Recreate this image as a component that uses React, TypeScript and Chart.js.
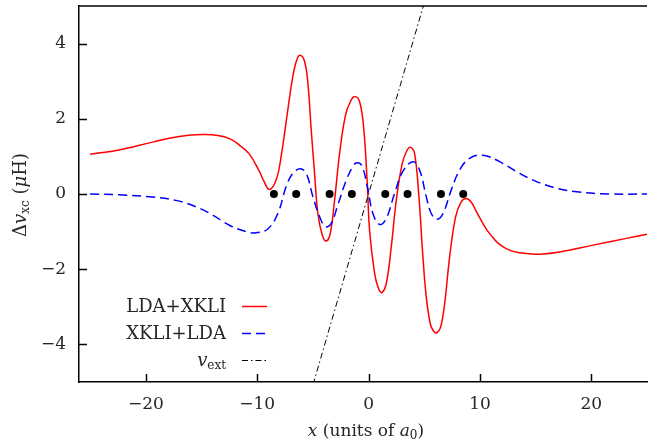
import React, { useEffect, useRef } from "react";
import { Chart, registerables } from "chart.js";

Chart.register(...registerables);

// LDA+XKLI (red, solid)
const ldaXkliX = [
  -25.0, -22.4, -19.4, -17.0, -14.9, -13.4, -12.4, -11.6, -10.7, -9.8, -9.4, -8.9, -8.3, -7.85, -7.25, -6.8, -6.44,
  -6.14, -5.75, -5.45, -5.15, -4.85, -4.55, -4.16, -3.8, -3.44, -3.05, -2.6, -2.07, -1.56, -1.2, -0.81, -0.45,
  -0.12, 0.09, 0.54, 0.9, 1.2, 1.59, 2.04, 2.49, 3.03, 3.47, 3.77, 4.13, 4.52, 4.88, 5.18, 5.54, 5.84, 6.14,
  6.47, 6.83, 7.28, 7.82, 8.33, 8.78, 9.23, 9.6, 10.0, 10.5, 11.0, 11.6, 12.4, 13.3, 14.5, 15.4, 17.16, 20.15, 23.15, 25.0,
];
const ldaXkliY = [
  1.06, 1.17, 1.38, 1.53, 1.58, 1.55, 1.46, 1.3, 1.06, 0.6, 0.34, 0.12, 0.37, 1.0, 2.24, 3.13, 3.57,
  3.69, 3.53, 2.95, 1.71, 0.55, -0.52, -1.09, -1.25, -1.05, -0.16, 1.08, 2.1, 2.5, 2.59, 2.46, 1.8,
  0.3, -0.96, -2.11, -2.52, -2.62, -2.38, -1.4, -0.16, 0.82, 1.17, 1.24, 1.08, -0.07, -1.67, -2.74, -3.45, -3.65, -3.69,
  -3.54, -2.92, -1.67, -0.6, -0.2, -0.12, -0.22, -0.42, -0.64, -0.9, -1.1, -1.3, -1.46, -1.55, -1.59, -1.6, -1.54, -1.36, -1.18, -1.07,
];

// XKLI+LDA (blue, dashed)
const xkliLdaX = [
  -25.0, -22.4, -19.4, -17.3, -15.5, -14.0, -12.5, -11.0, -10.1, -9.05, -8.15, -7.4, -6.8, -6.14, -5.6, -5.0,
  -4.4, -3.86, -3.35, -2.76, -2.0, -1.41, -1.05, -0.6, -0.1, 0.39, 0.99, 1.59, 2.34, 3.08, 3.98, 4.58, 5.18,
  5.63, 6.14, 6.68, 7.43, 8.18, 9.07, 10.27, 11.77, 13.27, 14.77, 16.56, 18.66, 21.65, 25.0,
];
const xkliLdaY = [
  0.0, -0.02, -0.08, -0.17, -0.34, -0.56, -0.83, -1.0, -1.03, -0.93, -0.52, 0.2, 0.55, 0.67, 0.55, -0.07,
  -0.6, -0.87, -0.78, -0.29, 0.37, 0.73, 0.83, 0.75, 0.18, -0.52, -0.81, -0.65, 0.02, 0.6, 0.86, 0.64, -0.07,
  -0.52, -0.67, -0.52, 0.11, 0.64, 0.95, 1.03, 0.86, 0.6, 0.37, 0.18, 0.06, 0.0, 0.0,
];

// external potential (dash-dot)
const vextX = [-6, 6];
const vextY = [-6.1, 6.1];

// atom positions
const atomX = [-8.5, -6.5, -3.5, -1.5, 1.5, 3.5, 6.5, 8.5];
const atomY = [0, 0, 0, 0, 0, 0, 0, 0];

const xTicks = [-20, -10, 0, 10, 20];
const yTicks = [-4, -2, 0, 2, 4];

const SERIF = "'DejaVu Serif', serif";
const TEXT_COLOR = "#262626";

type Seg = { t: string; italic?: boolean; size?: number; dy?: number };

function drawRich(ctx: CanvasRenderingContext2D, segs: Seg[], x: number, y: number, align: "left" | "center" | "right") {
  const fontFor = (s: Seg) => `${s.italic ? "italic " : ""}${s.size ?? 17}px ${SERIF}`;
  let total = 0;
  for (const s of segs) {
    ctx.font = fontFor(s);
    total += ctx.measureText(s.t).width;
  }
  let cx = align === "left" ? x : align === "center" ? x - total / 2 : x - total;
  ctx.textAlign = "left";
  ctx.textBaseline = "alphabetic";
  for (const s of segs) {
    ctx.font = fontFor(s);
    ctx.fillText(s.t, cx, y + (s.dy ?? 0));
    cx += ctx.measureText(s.t).width;
  }
}

const decorPlugin = {
  id: "decor",
  afterDraw(chart: any) {
    const { ctx, chartArea } = chart;
    const xs = chart.scales.x;
    const ys = chart.scales.y;
    ctx.save();
    // top frame line
    ctx.strokeStyle = "#000";
    ctx.lineWidth = 1.5;
    ctx.beginPath();
    ctx.moveTo(chartArea.left, chartArea.top);
    ctx.lineTo(chartArea.right, chartArea.top);
    ctx.stroke();
    // inward tick marks
    for (const v of xTicks) {
      const px = Math.round(xs.getPixelForValue(v)) + 0.5;
      ctx.beginPath();
      ctx.moveTo(px, chartArea.bottom);
      ctx.lineTo(px, chartArea.bottom - 8);
      ctx.stroke();
    }
    for (const v of yTicks) {
      const py = Math.round(ys.getPixelForValue(v)) + 0.5;
      ctx.beginPath();
      ctx.moveTo(chartArea.left, py);
      ctx.lineTo(chartArea.left + 8, py);
      ctx.stroke();
    }
    ctx.fillStyle = TEXT_COLOR;
    // x title
    drawRich(
      ctx,
      [
        { t: "x", italic: true },
        { t: " (units of " },
        { t: "a", italic: true },
        { t: "0", size: 12, dy: 3 },
        { t: ")" },
      ],
      (chartArea.left + chartArea.right) / 2 + 3,
      436,
      "center"
    );
    // y title
    ctx.save();
    ctx.translate(26, 195);
    ctx.rotate(-Math.PI / 2);
    drawRich(
      ctx,
      [
        { t: "Δ", size: 18 },
        { t: "v", italic: true, size: 18 },
        { t: "xc", size: 12, dy: 3 },
        { t: " (", size: 18 },
        { t: "μ", italic: true, size: 18 },
        { t: "H)", size: 18 },
      ],
      0,
      0,
      "center"
    );
    ctx.restore();
    // legend
    const rows = [
      { segs: [{ t: "LDA+XKLI", size: 18 }] as Seg[], ds: 0, y: 306 },
      { segs: [{ t: "XKLI+LDA", size: 18 }] as Seg[], ds: 1, y: 333 },
      { segs: [{ t: "v", italic: true, size: 18 }, { t: "ext", size: 12, dy: 3 }] as Seg[], ds: 2, y: 360 },
    ];
    for (const r of rows) {
      const d = chart.data.datasets[r.ds];
      ctx.fillStyle = TEXT_COLOR;
      drawRich(ctx, r.segs, 226, r.y + 6, "right");
      ctx.strokeStyle = d.borderColor;
      ctx.lineWidth = d.borderWidth;
      ctx.setLineDash(d.borderDash || []);
      ctx.beginPath();
      ctx.moveTo(242, r.y + 0.5);
      ctx.lineTo(267, r.y + 0.5);
      ctx.stroke();
      ctx.setLineDash([]);
    }
    ctx.restore();
  },
};

const fmt = (v: number | string) => String(v).replace("-", "\u2212");

export default function App() {
  const ref = useRef<HTMLCanvasElement | null>(null);
  useEffect(() => {
    if (!ref.current) return;
    const tickFont = { family: SERIF, size: 17 };
    const chart = new Chart(ref.current, {
      type: "line",
      data: {
        datasets: [
          {
            label: "LDA+XKLI",
            data: ldaXkliX.map((x, i) => ({ x, y: ldaXkliY[i] })),
            borderColor: "#ff0000",
            borderWidth: 1.5,
            pointRadius: 0,
            tension: 0.4,
            fill: false,
            order: 3,
          },
          {
            label: "XKLI+LDA",
            data: xkliLdaX.map((x, i) => ({ x, y: xkliLdaY[i] })),
            borderColor: "#0000ff",
            borderWidth: 1.5,
            borderDash: [9, 5],
            pointRadius: 0,
            tension: 0.4,
            fill: false,
            order: 2,
          },
          {
            label: "v_ext",
            data: vextX.map((x, i) => ({ x, y: vextY[i] })),
            borderColor: "#000000",
            borderWidth: 1,
            borderDash: [6, 3, 1.5, 3],
            pointRadius: 0,
            fill: false,
            order: 1,
          },
          {
            label: "atoms",
            data: atomX.map((x, i) => ({ x, y: atomY[i] })),
            showLine: false,
            pointRadius: 4,
            pointBackgroundColor: "#000",
            pointBorderWidth: 0,
            order: 0,
          },
        ],
      } as any,
      options: {
        animation: false,
        responsive: false,
        devicePixelRatio: 1,
        layout: { padding: { left: 0, top: 6, right: 7, bottom: 0 } },
        plugins: { legend: { display: false }, tooltip: { enabled: false } },
        scales: {
          x: {
            type: "linear",
            min: -26,
            max: 25,
            afterFit: (s: any) => {
              s.height = 62;
              s.paddingLeft = 0;
              s.paddingRight = 0;
            },
            afterBuildTicks: (s: any) => {
              s.ticks = xTicks.map((v) => ({ value: v }));
            },
            grid: { display: false, drawTicks: false },
            border: { display: true, color: "#000", width: 1.5 },
            ticks: { font: tickFont, color: TEXT_COLOR, padding: 12, maxRotation: 0, callback: fmt },
          },
          y: {
            type: "linear",
            min: -5,
            max: 5,
            afterFit: (s: any) => {
              s.width = 79;
              s.paddingTop = 0;
              s.paddingBottom = 0;
            },
            afterBuildTicks: (s: any) => {
              s.ticks = yTicks.map((v) => ({ value: v }));
            },
            grid: { display: false, drawTicks: false },
            border: { display: true, color: "#000", width: 1.5 },
            ticks: { font: tickFont, color: TEXT_COLOR, padding: 13, callback: fmt },
          },
        },
      } as any,
      plugins: [decorPlugin],
    });
    return () => chart.destroy();
  }, []);
  return (
    <div style={{ position: "absolute", left: 0, top: 0, width: 654, height: 444 }}>
      <canvas ref={ref} width={654} height={444} />
    </div>
  );
}
